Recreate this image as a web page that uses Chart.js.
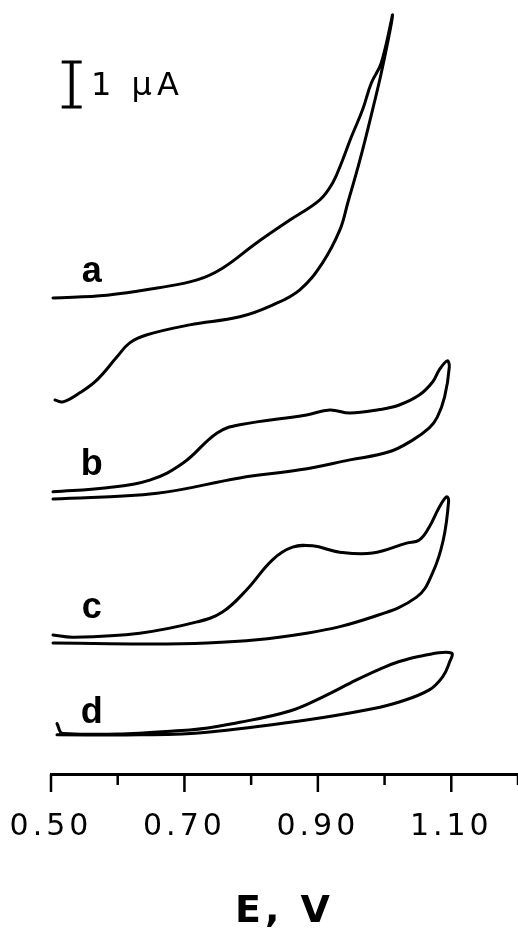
<!DOCTYPE html>
<html><head><meta charset="utf-8">
<script src="https://cdn.jsdelivr.net/npm/chart.js@4/dist/chart.umd.min.js"></script>
<style>html,body{margin:0;padding:0;background:#fff;overflow:hidden}canvas{display:block}</style>
</head><body>
<canvas id="c" width="518" height="933"></canvas>
<script>
// ---- data (E in V, current in µA, curves offset vertically as in the figure) ----
const tickValues = [0.50, 0.60, 0.70, 0.80, 0.90, 1.00, 1.10, 1.20];
const labeledTicks = [0.50, 0.70, 0.90, 1.10];

const aE = [0.503,0.584,0.659,0.719,0.757,0.808,0.858,0.903,0.922,0.937,0.950,0.967,0.980,0.995,1.012,
            0.997,0.982,0.963,0.945,0.933,0.907,0.873,0.832,0.783,0.708,0.644,0.618,0.599,0.569,0.543,0.518,0.506];
const aI = [10.58,10.64,10.80,10.98,11.24,11.80,12.31,12.76,13.13,13.64,14.15,14.76,15.35,15.80,16.87,
            15.71,14.76,13.64,12.70,12.09,11.36,10.76,10.42,10.16,9.98,9.76,9.58,9.27,8.76,8.47,8.27,8.31];

const bE = [0.503,0.584,0.648,0.698,0.749,0.783,0.883,0.918,0.948,0.993,1.022,1.052,1.072,1.082,1.094,
            1.097,1.090,1.079,1.067,1.042,1.007,0.948,0.873,0.783,0.659,0.503];
const bI = [6.27,6.36,6.53,6.91,7.58,7.76,7.98,8.09,8.02,8.10,8.20,8.42,8.71,8.98,9.18,
            9.04,8.38,7.93,7.69,7.42,7.16,6.98,6.76,6.58,6.24,6.11];

const cE = [0.503,0.533,0.633,0.719,0.757,0.793,0.832,0.862,0.892,0.933,0.982,1.033,1.052,1.067,1.082,1.093,
            1.096,1.088,1.072,1.048,0.982,0.883,0.734,0.503];
const cI = [3.09,3.04,3.13,3.38,3.60,4.09,4.76,5.04,5.07,4.93,4.91,5.13,5.20,5.49,5.93,6.16,
            6.07,5.20,4.47,3.93,3.49,3.13,2.91,2.91];

const dE = [0.509,0.518,0.708,0.783,0.858,0.907,0.958,0.993,1.022,1.057,1.100,
            1.097,1.087,1.067,1.022,0.982,0.883,0.734,0.633,0.509];
const dI = [1.12,0.90,0.98,1.15,1.40,1.71,2.09,2.33,2.50,2.63,2.69,
            2.47,2.16,1.87,1.60,1.45,1.20,0.93,0.87,0.87];

const curveNames = ['a','b','c','d'];
const curveLabelE = [0.561, 0.561, 0.561, 0.561];
const curveLabelI = [10.93, 6.64, 3.47, 1.13];

const scaleBarE = 0.531;
const scaleBarI = [14.82, 15.82];
const scaleBarText = '1 μA';
const scaleTextE = 0.560;
const scaleTextI = 15.09;

const xTitle = 'E, V';

// ---- chart ----
function series(E, I){ return E.map((e,i)=>({x:e, y:I[i]})); }
function ds(E, I){
  return {data: series(E,I), showLine:true, borderColor:'#000', borderWidth:3, pointRadius:0,
          tension:0.4, fill:false, clip:false, borderJoinStyle:'round', borderCapStyle:'round'};
}

const decorations = {
  id:'decorations',
  beforeDraw(chart){ chart.ctx.letterSpacing = '4px'; },
  afterDraw(chart){
    const ctx = chart.ctx, xs = chart.scales.x, ys = chart.scales.y;
    ctx.save();
    ctx.letterSpacing = '0px';
    // tick marks below the axis
    ctx.strokeStyle = '#000'; ctx.lineWidth = 2.5;
    xs.ticks.forEach(t=>{
      const major = labeledTicks.some(v=>Math.abs(v-t.value)<1e-6);
      const px = xs.getPixelForValue(t.value);
      ctx.beginPath(); ctx.moveTo(px, ys.bottom); ctx.lineTo(px, ys.bottom + (major?18:11)); ctx.stroke();
    });
    // curve labels
    ctx.fillStyle = '#000';
    ctx.font = 'bold 36px "Liberation Sans"';
    ctx.textAlign = 'center'; ctx.textBaseline = 'alphabetic';
    curveNames.forEach((n,i)=>{
      ctx.fillText(n, xs.getPixelForValue(curveLabelE[i]), ys.getPixelForValue(curveLabelI[i]));
    });
    // scale bar
    const bx = xs.getPixelForValue(scaleBarE);
    const y1 = ys.getPixelForValue(scaleBarI[0]), y2 = ys.getPixelForValue(scaleBarI[1]);
    ctx.lineWidth = 4;
    ctx.beginPath(); ctx.moveTo(bx, y1); ctx.lineTo(bx, y2); ctx.stroke();
    ctx.lineWidth = 3;
    ctx.beginPath(); ctx.moveTo(bx-10, y1); ctx.lineTo(bx+10, y1); ctx.moveTo(bx-10, y2); ctx.lineTo(bx+10, y2); ctx.stroke();
    ctx.letterSpacing = '5px';
    ctx.font = '32px "DejaVu Sans"';
    ctx.textAlign = 'left';
    ctx.fillText(scaleBarText, xs.getPixelForValue(scaleTextE), ys.getPixelForValue(scaleTextI));
    ctx.restore();
    ctx.letterSpacing = '0px';
  }
};

new Chart(document.getElementById('c'), {
  type:'scatter',
  data:{ datasets:[ds(aE,aI), ds(bE,bI), ds(cE,cI), ds(dE,dI)] },
  options:{
    responsive:false, animation:false, devicePixelRatio:1,
    layout:{padding:{left:51, right:0, top:0, bottom:0}},
    plugins:{legend:{display:false}, tooltip:{enabled:false}},
    scales:{
      x:{
        type:'linear', position:'bottom', min:0.5, max:1.2,
        afterBuildTicks(s){ s.ticks = tickValues.map(v=>({value:v})); },
        afterFit(s){ s.height = 159; s.paddingLeft = 0; s.paddingRight = 0; },
        ticks:{autoSkip:false, maxRotation:0, minRotation:0, padding:35, color:'#000',
               font:{family:'DejaVu Sans', size:30},
               callback(v){ return labeledTicks.some(t=>Math.abs(t-v)<1e-6) ? Number(v).toFixed(2) : ''; }},
        grid:{display:true, drawOnChartArea:false, drawTicks:false},
        border:{display:true, color:'#000', width:3},
        title:{display:true, text:xTitle, color:'#000',
               font:{family:'DejaVu Sans', size:38, weight:'bold', lineHeight:1.1},
               padding:{top:0, bottom:0}}
      },
      y:{display:false, min:0, max:17.2}
    }
  },
  plugins:[decorations]
});
</script>
</body></html>
